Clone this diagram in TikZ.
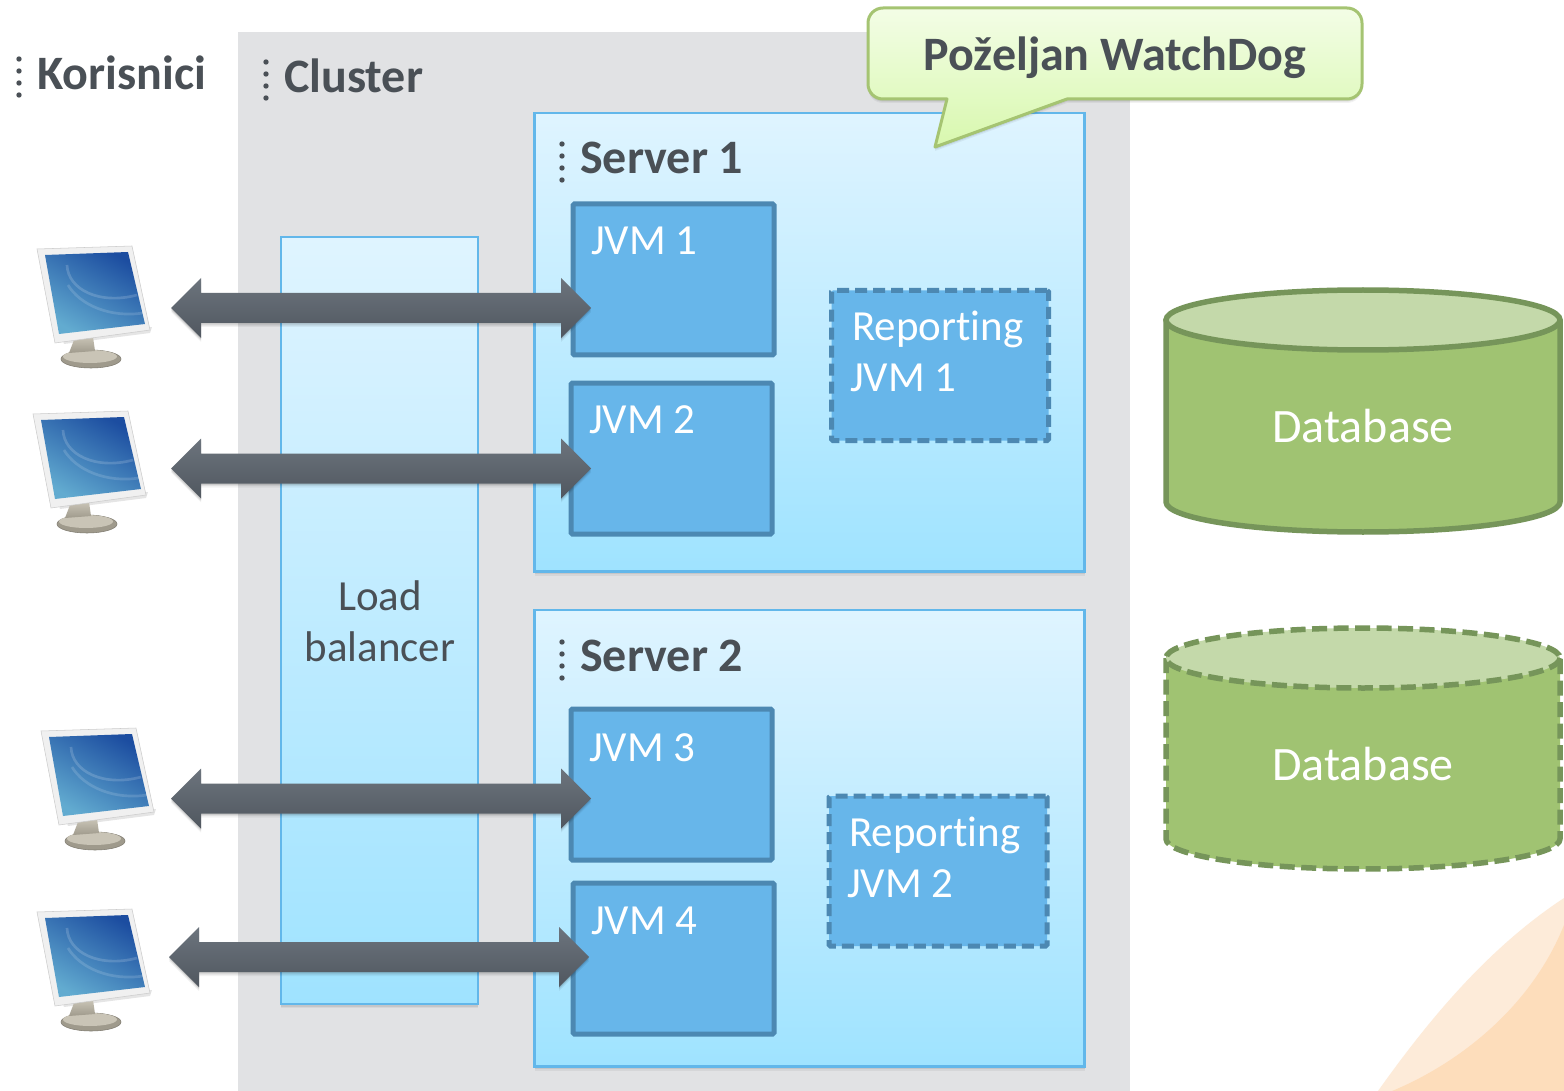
\documentclass[tikz,border=0pt]{standalone}
\usepackage{fontspec}
\setmainfont{Carlito}[Ligatures=CommonOff]
\usetikzlibrary{calc,shadows}
\definecolor{darktext}{HTML}{4A5056}
\definecolor{clustergray}{HTML}{E1E2E4}
\definecolor{boxtop}{HTML}{DFF4FF}
\definecolor{boxbottom}{HTML}{9FE3FF}
\definecolor{boxline}{HTML}{62B7EA}
\definecolor{jvmfill}{HTML}{67B6EA}
\definecolor{jvmline}{HTML}{4C88B2}
\definecolor{dbfill}{HTML}{A0C372}
\definecolor{dbtop}{HTML}{C4D9AA}
\definecolor{dbline}{HTML}{76955A}
\definecolor{calltop}{HTML}{F3FDE6}
\definecolor{callbottom}{HTML}{D8F8AE}
\definecolor{callline}{HTML}{A5C472}
\definecolor{arrowtop}{HTML}{6C747D}
\definecolor{arrowbottom}{HTML}{50575F}
\definecolor{screendark}{HTML}{1C4DA0}
\definecolor{screenlight}{HTML}{62ABD0}
\definecolor{blobpale}{HTML}{FDEBD9}
\definecolor{blobdark}{HTML}{FDDDBB}
\definecolor{standlight}{HTML}{C9C4B6}
\definecolor{standdark}{HTML}{9F9A8C}
\def\px{0.75pt}
\newcommand{\bigfont}{\fontsize{36pt}{42pt}\selectfont}
\newcommand{\midfont}{\fontsize{32.2pt}{38pt}\selectfont}
\tikzset{
  softshadow/.style={
    general shadow={shadow xshift=0pt,shadow yshift=-3pt,fill=black,opacity=.05},
    general shadow={shadow xshift=0pt,shadow yshift=-2pt,fill=black,opacity=.07},
    general shadow={shadow xshift=0pt,shadow yshift=-1pt,fill=black,opacity=.09}},
  plainbox/.style={rectangle,anchor=north west,inner sep=0pt,outer sep=0pt},
  serverbox/.style={plainbox,draw=boxline,line width=2.5*\px,top color=boxtop,bottom color=boxbottom,softshadow},
  jvmbox/.style={plainbox,draw=jvmline,line width=5*\px,fill=jvmfill,rounded corners=1pt},
  reportbox/.style={jvmbox,dash pattern=on 12*\px off 6*\px},
  title/.style={anchor=base west,inner sep=0pt,text=darktext,font=\bigfont\bfseries},
  whitetext/.style={anchor=base west,inner sep=0pt,text=white,font=\midfont},
  dbtext/.style={anchor=base,inner sep=0pt,text=white,font=\bigfont},
  lbtext/.style={anchor=base,inner sep=0pt,text=darktext,font=\midfont},
  blockarrow/.style={draw=none,top color=arrowtop,bottom color=arrowbottom,softshadow},
  dbbody/.style={fill=dbfill,draw=dbline,line width=5.5*\px,line join=round},
  dbcap/.style={fill=dbtop,draw=dbline,line width=5.5*\px},
  dashedline/.style={dash pattern=on 15*\px off 6.5*\px},
  monitor/.pic={
    \fill[black,opacity=.10] (62,338) -- (152,327) -- (150,333) -- (64,344) -- cycle;
    \path[fill=standdark,draw=standdark!80!black,line width=.4pt] (91,359) ellipse [x radius=30,y radius=9];
    \path[fill=standlight] (90,356.5) ellipse [x radius=27,y radius=6.5];
    \path[top color=standlight,bottom color=standdark] (74,340) -- (93,337) -- (95,351) -- (69,353) -- cycle;
    \path[fill=black!6!white,draw=black!20!white,line width=.4pt] (37,249) -- (132,246) -- (150,330) -- (55,343) -- cycle;
    \shade[left color=screendark,right color=screenlight,shading angle=-30]
      (45,255) -- (128,252) -- (145,324) -- (59,334) -- cycle;
    \draw[white,opacity=.16,line width=2pt] (67,265) .. controls (68,290) and (100,305) .. (137,295);
    \draw[white,opacity=.14,line width=2pt] (68,285) .. controls (80,305) and (110,318) .. (143,313);
  },
  dots/.pic={
    \foreach \k in {0,12,24,36} \fill[darktext] (0,\k) circle [radius=2.7];
  }
}
\newcommand{\arrowbetween}[2]{%
  \draw[blockarrow] (#1) -- ($(#1)+(30,-30)$) -- ($(#1)+(30,-15)$) -- ($(#2)+(-30,-15)$) -- ($(#2)+(-30,-30)$) -- (#2)
    -- ($(#2)+(-30,30)$) -- ($(#2)+(-30,15)$) -- ($(#1)+(30,15)$) -- ($(#1)+(30,30)$) -- cycle;}
\begin{document}
\begin{tikzpicture}[x=0.75pt,y=-0.75pt]
\useasboundingbox (0,0) rectangle (1564,1091);
% background artwork
\fill[white] (0,0) rectangle (1564,1091);
\fill[blobpale] (1378,1091) .. controls (1425,1025) and (1485,950) .. (1564,898) -- (1564,1091) -- cycle;
\fill[blobdark] (1392,1091) .. controls (1455,1065) and (1530,1010) .. (1564,925) -- (1564,1091) -- cycle;
% cluster
\node[plainbox,fill=clustergray,minimum width=892*\px,minimum height=1059*\px] (cluster) at (238,32) {};
% servers and load balancer
\node[serverbox,minimum width=197*\px,minimum height=767*\px] (lb) at (281,237) {};
\node[serverbox,minimum width=550*\px,minimum height=458.5*\px] (srv1) at (534.5,113) {};
\node[serverbox,minimum width=550*\px,minimum height=456.5*\px] (srv2) at (534.5,610) {};
% JVMs
\node[jvmbox,minimum width=201*\px,minimum height=151*\px] (jvm1) at (573,204) {};
\node[jvmbox,minimum width=201*\px,minimum height=151*\px] (jvm2) at (571,383) {};
\node[jvmbox,minimum width=201*\px,minimum height=151*\px] (jvm3) at (571,709) {};
\node[jvmbox,minimum width=201*\px,minimum height=151*\px] (jvm4) at (573,883) {};
\node[reportbox,minimum width=217*\px,minimum height=150*\px] (rep1) at (831.5,290.5) {};
\node[reportbox,minimum width=218*\px,minimum height=150*\px] (rep2) at (829,796) {};
% titles
\pic at (19,59) {dots};
\pic at (266,62) {dots};
\pic at (562,144) {dots};
\pic at (562,642) {dots};
\node[title] (tkor) at (37,90) {Korisnici};
\node[title] (tclu) at (284,93) {Cluster};
\node[title] (tsrv1) at (580,174) {Server 1};
\node[title] (tsrv2) at (580,671.5) {Server 2};
% inner labels
\node[whitetext] (tj1) at (591,255) {JVM 1};
\node[whitetext] (tj2) at (589,433.5) {JVM 2};
\node[whitetext] (tj3) at (589,761) {JVM 3};
\node[whitetext] (tj4) at (591,934.5) {JVM 4};
\node[whitetext] (tr1a) at (852,340.5) {Reporting};
\node[whitetext] (tr1b) at (850,391.5) {JVM 1};
\node[whitetext] (tr2a) at (849,846.5) {Reporting};
\node[whitetext] (tr2b) at (847,897.5) {JVM 2};
\node[lbtext] (tlb1) at (380,610) {Load};
\node[lbtext] (tlb2) at (380,661) {balancer};
% databases
\draw[dbbody] (1166,320) -- (1166,502) arc [start angle=180,end angle=360,x radius=197,y radius=-30] -- (1560,320) -- cycle;
\draw[dbcap] (1363,320) ellipse [x radius=197,y radius=30];
\node[dbtext] (db1) at (1363,442) {Database};
\draw[dbbody,dashedline] (1166,658) -- (1166,839) arc [start angle=180,end angle=360,x radius=197,y radius=-30] -- (1560,658) -- cycle;
\draw[dbcap,dashedline] (1363,658) ellipse [x radius=197,y radius=30];
\node[dbtext] (db2) at (1363,780) {Database};
% monitors
\pic (mon1) at (0,0) {monitor};
\pic (mon2) at (-4,165) {monitor};
\pic (mon3) at (4,482) {monitor};
\pic (mon4) at (0,663) {monitor};
% arrows
\coordinate (u1) at (171,308);  \coordinate (j1) at (591,308);
\coordinate (u2) at (171,468.5);  \coordinate (j2) at (591,468.5);
\coordinate (u3) at (171,798.5);  \coordinate (j3) at (591,798.5);
\coordinate (u4) at (169,957);  \coordinate (j4) at (589,957);
\arrowbetween{u1}{j1}
\arrowbetween{u2}{j2}
\arrowbetween{u3}{j3}
\arrowbetween{u4}{j4}
% callout
\draw[draw=callline,line width=3*\px,top color=calltop,bottom color=callbottom,line join=round,softshadow]
  (883,8) -- (1347,8) .. controls (1355.3,8) and (1362,14.7) .. (1362,23)
  -- (1362,84) .. controls (1362,92.3) and (1355.3,99) .. (1347,99)
  -- (1067,99) -- (935,147) -- (947,99)
  -- (883,99) .. controls (874.7,99) and (868,92.3) .. (868,84)
  -- (868,23) .. controls (868,14.7) and (874.7,8) .. (883,8) -- cycle;
\node[anchor=base,inner sep=0pt,text=darktext,font=\bigfont\bfseries] (call) at (1115,71) {Poželjan WatchDog};
\end{tikzpicture}
\end{document}
